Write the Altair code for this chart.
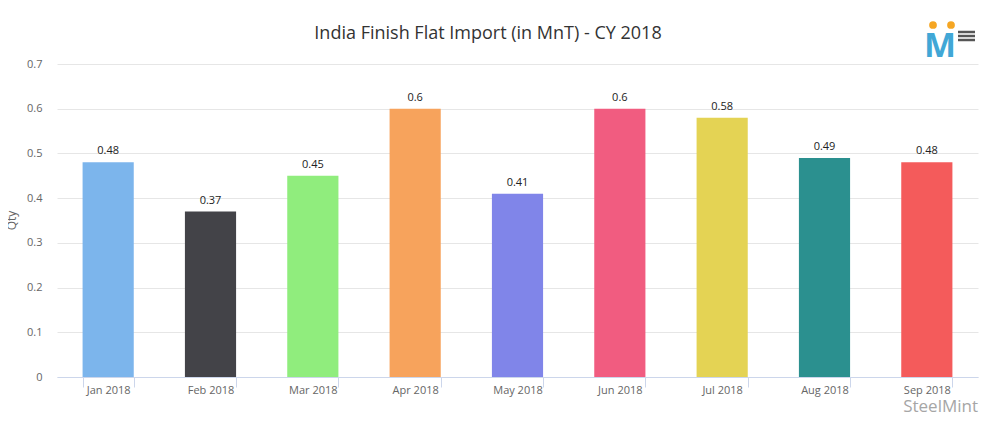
import altair as alt
import pandas as pd

title_text = "India Finish Flat Import (in MnT) - CY 2018"
months = ["Jan 2018", "Feb 2018", "Mar 2018", "Apr 2018", "May 2018",
          "Jun 2018", "Jul 2018", "Aug 2018", "Sep 2018"]
qty = [0.48, 0.37, 0.45, 0.60, 0.41, 0.60, 0.58, 0.49, 0.48]
labels = ["0.48", "0.37", "0.45", "0.6", "0.41", "0.6", "0.58", "0.49", "0.48"]
colors = ["#7cb5ec", "#434348", "#90ed7d", "#f7a35c", "#8085e9",
          "#f15c80", "#e4d354", "#2b908f", "#f45b5b"]
y_ticks = [0, 0.1, 0.2, 0.3, 0.4, 0.5, 0.6, 0.7]

df = pd.DataFrame({"month": months, "qty": qty, "label": labels})
one = pd.DataFrame({"k": [0]})

FONT = "Open Sans"

x = alt.X("month:N", sort=months, title=None,
          scale=alt.Scale(paddingInner=0.5, paddingOuter=0.25),
          axis=alt.Axis(labelAngle=0, labelColor="#666666", labelFontSize=11,
                        labelFont=FONT, domainColor="#ccd6eb", tickColor="#ccd6eb",
                        tickSize=10, tickBand="extent", labelPadding=-3, grid=False))
y = alt.Y("qty:Q", title="Qty",
          scale=alt.Scale(domain=[0, 0.7], nice=False),
          axis=alt.Axis(values=y_ticks, format="~g", labelColor="#666666",
                        labelFontSize=11, labelFont=FONT, domain=False, ticks=False,
                        labelPadding=15, gridColor="#e6e6e6", titleColor="#666666",
                        titleFontSize=12, titleFont=FONT, titleFontWeight="normal",
                        titleX=-39, titleY=156))

base = alt.Chart(df)

bars = base.mark_bar().encode(
    x=x, y=y,
    color=alt.Color("month:N", scale=alt.Scale(domain=months, range=colors), legend=None),
)

text = base.mark_text(baseline="bottom", dy=-6, fontSize=11, font=FONT,
                      color="#222222").encode(x=x, y=y, text="label:N")

title = alt.Chart(pd.DataFrame({"t": [title_text]})).mark_text(
    align="center", baseline="alphabetic", fontSize=18, font=FONT, color="#333333"
).encode(x=alt.value(431), y=alt.value(-25), text="t:N")

watermark = alt.Chart(pd.DataFrame({"t": ["SteelMint"]})).mark_text(
    align="right", baseline="alphabetic", fontSize=17, font=FONT, color="#a6a6a6"
).encode(x=alt.value(921), y=alt.value(348), text="t:N")

logo_m = alt.Chart(pd.DataFrame({"t": ["M"]})).mark_text(
    align="center", baseline="alphabetic", fontSize=34, font=FONT,
    fontWeight="bold", color="#41a7d6"
).encode(x=alt.value(883), y=alt.value(-7), text="t:N")

dot1 = alt.Chart(one).mark_circle(size=60, color="#f5a623", opacity=1).encode(
    x=alt.value(876), y=alt.value(-39))
dot2 = alt.Chart(one).mark_circle(size=60, color="#f5a623", opacity=1).encode(
    x=alt.value(894), y=alt.value(-39))

menu = [alt.Chart(one).mark_rule(color="#555555", strokeWidth=2.5).encode(
            x=alt.value(901), x2=alt.value(918), y=alt.value(yy))
        for yy in (-32, -28, -24)]

chart = alt.layer(bars, text, title, watermark, logo_m, dot1, dot2, *menu).properties(
    width=921, height=313,
    autosize=alt.AutoSizeParams(type="none"),
    padding={"left": 49, "top": 56, "right": 6, "bottom": 43},
).configure_view(stroke=None)

chart.save("out.html", embed_options={"renderer": "svg", "actions": False})
